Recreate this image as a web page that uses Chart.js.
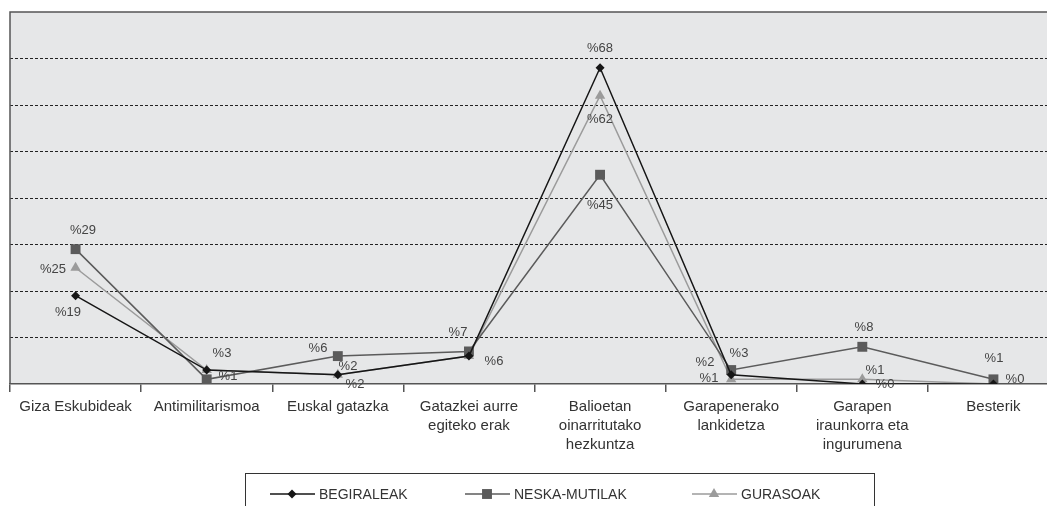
<!DOCTYPE html>
<html>
<head>
<meta charset="utf-8">
<script src="https://cdn.jsdelivr.net/npm/chart.js"></script>
<style>
  html, body { margin: 0; padding: 0; background: #fff; overflow: hidden; }
  #wrap { width: 1047px; height: 506px; overflow: hidden; }
</style>
</head>
<body>
<div id="wrap"><canvas id="myChart" width="1066" height="506"></canvas></div>
<script>
// categories (x axis)
const categories = [
  'Giza Eskubideak',
  'Antimilitarismoa',
  'Euskal gatazka',
  ['Gatazkei aurre', 'egiteko erak'],
  ['Balioetan', 'oinarritutako', 'hezkuntza'],
  ['Garapenerako', 'lankidetza'],
  ['Garapen', 'iraunkorra eta', 'ingurumena'],
  'Besterik'
];
const seriesNames = ['BEGIRALEAK', 'NESKA-MUTILAK', 'GURASOAK'];
const begiraleak = [19, 3, 2, 6, 68, 2, 0, 0];
const neskaMutilak = [29, 1, 6, 7, 45, 3, 8, 1];
const gurasoak = [25, 3, 2, 6, 62, 1, 1, 0];
const yTicks = [0, 10, 20, 30, 40, 50, 60, 70, 80];

// where each value label sits relative to its point [dx, dy]
const labelOffsets = [
  [[-8, 16], [15, -17], [17, 9], [25, 5], [0, -20], [-26, -13], [23, 0], [22, -5]],
  [[7, -19], [21, -3], [-20, -8], [-11, -19], [0, 30], [8, -17], [2, -20], [1, -21]],
  [[-23, 1], [15, -17], [10, -9], [25, 5], [0, 23], [-22, -1], [13, -9], [22, -5]]
];

const colors = ['#161616', '#5b5b5b', '#9b9b9b'];
const styles = ['rectRot', 'rect', 'triangle'];
const radii = [4.5, 7, 6];

let plotFrame = {
  id: 'plotFrame',
  beforeDraw: (chart) => {
    let a = chart.chartArea, ctx = chart.ctx;
    ctx.save();
    ctx.fillStyle = '#e6e7e8';
    ctx.fillRect(a.left, a.top, a.right - a.left, a.bottom - a.top);
    ctx.restore();
  },
  beforeDatasetsDraw: (chart) => {
    let a = chart.chartArea, ctx = chart.ctx;
    ctx.save();
    ctx.strokeStyle = '#555';
    ctx.lineWidth = 1.5;
    ctx.beginPath();
    ctx.moveTo(a.left, a.bottom);
    ctx.lineTo(a.left, a.top);
    ctx.lineTo(a.right, a.top);
    ctx.stroke();
    ctx.restore();
  }
};

let valueLabels = {
  id: 'valueLabels',
  afterDatasetsDraw: (chart) => {
    let ctx = chart.ctx;
    let done = {};
    ctx.save();
    ctx.font = '13px "Liberation Sans", Arial, sans-serif';
    ctx.fillStyle = '#444';
    ctx.textAlign = 'center';
    ctx.textBaseline = 'middle';
    chart.data.datasets.forEach((ds, di) => {
      chart.getDatasetMeta(di).data.forEach((pt, i) => {
        let off = labelOffsets[di][i];
        let txt = '%' + ds.data[i];
        let x = Math.round(pt.x + off[0]), y = Math.round(pt.y + off[1]);
        let key = txt + '@' + x + ',' + y;
        if (done[key]) return; // same label already drawn on this spot
        done[key] = true;
        ctx.fillText(txt, x, y);
      });
    });
    ctx.restore();
  }
};

let drawMarker = (ctx, style, x, y, r, color) => {
  ctx.fillStyle = color;
  ctx.beginPath();
  if (style === 'rectRot') {
    ctx.moveTo(x, y - r); ctx.lineTo(x + r, y); ctx.lineTo(x, y + r); ctx.lineTo(x - r, y);
  } else if (style === 'rect') {
    let s = r * Math.SQRT1_2;
    ctx.rect(x - s, y - s, 2 * s, 2 * s);
  } else {
    ctx.moveTo(x, y - r);
    ctx.lineTo(x + r * 0.866, y + r * 0.5);
    ctx.lineTo(x - r * 0.866, y + r * 0.5);
  }
  ctx.closePath();
  ctx.fill();
};

let boxLegend = {
  id: 'boxLegend',
  afterDraw: (chart) => {
    let ctx = chart.ctx;
    ctx.save();
    ctx.strokeStyle = '#333';
    ctx.lineWidth = 1;
    ctx.strokeRect(245.5, 473.5, 629, 60);
    let starts = [270, 465, 692];
    ctx.font = '14px "Liberation Sans", Arial, sans-serif';
    ctx.textBaseline = 'middle';
    ctx.textAlign = 'left';
    seriesNames.forEach((name, i) => {
      let x0 = starts[i], y = 494;
      ctx.strokeStyle = colors[i];
      ctx.lineWidth = 1.5;
      ctx.beginPath();
      ctx.moveTo(x0, y);
      ctx.lineTo(x0 + 45, y);
      ctx.stroke();
      drawMarker(ctx, styles[i], x0 + 22, y, radii[i], colors[i]);
      ctx.fillStyle = '#333';
      ctx.fillText(name, x0 + 49, y + 1);
    });
    ctx.restore();
  }
};

let ctx = document.getElementById('myChart').getContext('2d');
let chart1 = new Chart(ctx, {
  type: 'line',
  data: {
    labels: categories,
    datasets: [begiraleak, neskaMutilak, gurasoak].map((vals, i) => ({
      label: seriesNames[i],
      data: vals,
      borderColor: colors[i],
      backgroundColor: colors[i],
      borderWidth: 1.5,
      pointStyle: styles[i],
      pointRadius: radii[i],
      pointBorderWidth: 0,
      tension: 0,
      fill: false
    }))
  },
  options: {
    responsive: false,
    animation: false,
    devicePixelRatio: 1,
    layout: { padding: { left: 10, top: 12, right: 2, bottom: 0 } },
    plugins: { legend: { display: false }, tooltip: { enabled: false } },
    scales: {
      x: {
        offset: true,
        grid: { offset: true, drawOnChartArea: false, tickLength: 8, color: '#555', lineWidth: 1.5 },
        border: { color: '#555', width: 1.5 },
        ticks: {
          color: '#333',
          font: { family: '"Liberation Sans", Arial, sans-serif', size: 15, lineHeight: 1.27 },
          padding: 5,
          maxRotation: 0,
          autoSkip: false
        },
        afterFit: (scale) => { scale.height = 122; }
      },
      y: {
        min: yTicks[0],
        max: yTicks[yTicks.length - 1],
        afterBuildTicks: (scale) => { scale.ticks = yTicks.map(v => ({ value: v })); },
        ticks: { display: false },
        border: { display: false, dash: [3, 2] },
        grid: {
          drawTicks: false,
          lineWidth: 1,
          color: (c) => (c.tick && (c.tick.value === 0 || c.tick.value === 80)) ? 'rgba(0,0,0,0)' : '#222'
        },
        afterFit: (scale) => { scale.width = 0; }
      }
    }
  },
  plugins: [plotFrame, valueLabels, boxLegend]
});
</script>
</body>
</html>
